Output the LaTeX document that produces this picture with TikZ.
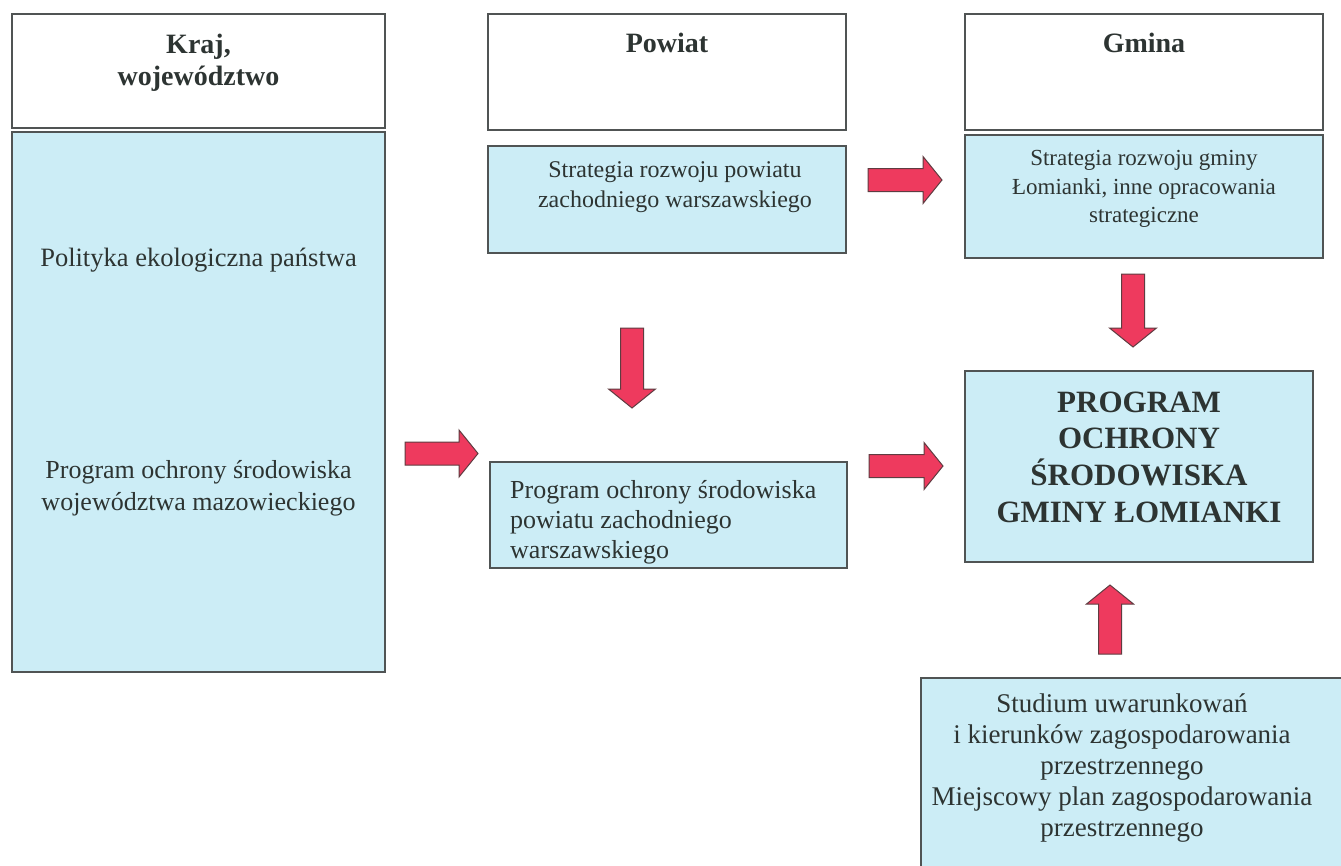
\documentclass[tikz,border=0pt]{standalone}
\usepackage{fontspec}
\setmainfont{Liberation Serif}
\definecolor{boxblue}{RGB}{204,237,246}
\definecolor{arrred}{RGB}{238,58,94}
\definecolor{arredge}{RGB}{95,60,65}
\definecolor{lineg}{RGB}{80,84,84}
\definecolor{txt}{RGB}{45,52,50}
\begin{document}
\begin{tikzpicture}[x=1pt,y=-1pt,
  wbox/.style={draw=lineg,line width=1.4pt,fill=white,inner sep=0pt,outer sep=0pt},
  bbox/.style={draw=lineg,line width=1.4pt,fill=boxblue,inner sep=0pt,outer sep=0pt},
  txtnode/.style={text=txt,inner sep=0pt,align=center},
  barrowstyle/.style={draw=arredge,line width=1pt,fill=arrred,line join=miter},
  pics/barrow/.style={code={
    \draw[barrowstyle] (0,-11.5) -- (#1-19,-11.5) -- (#1-19,-23.5) -- (#1,0)
      -- (#1-19,23.5) -- (#1-19,11.5) -- (0,11.5) -- cycle;}}]
\useasboundingbox (0,0) rectangle (1341,865);
\fill[white] (0,0) rectangle (1341,865);

% boxes
\node[wbox,minimum width=373pt,minimum height=114pt] (krajh) at (198.5,71) {};
\node[bbox,minimum width=373pt,minimum height=540pt] (krajb) at (198.5,402) {};
\node[wbox,minimum width=358pt,minimum height=116pt] (powh) at (667,72) {};
\node[bbox,minimum width=358pt,minimum height=107pt] (pows) at (667,199.5) {};
\node[bbox,minimum width=357pt,minimum height=106pt] (powp) at (668.5,515) {};
\node[wbox,minimum width=358pt,minimum height=116pt] (gmh) at (1144,72) {};
\node[bbox,minimum width=358pt,minimum height=123pt] (gms) at (1144,196.5) {};
\node[bbox,minimum width=348pt,minimum height=191pt] (prog) at (1139,466.5) {};
\node[bbox,minimum width=425pt,minimum height=192pt] (stud) at (1133.5,774) {};

% texts
\node[txtnode,font=\bfseries\fontsize{28}{32}\selectfont] (tkraj) at (198.5,63) {Kraj,\\województwo};
\node[txtnode,font=\bfseries\fontsize{28}{32}\selectfont] (tpow) at (667,43) {Powiat};
\node[txtnode,font=\bfseries\fontsize{28}{32}\selectfont] (tgm) at (1144,43) {Gmina};
\node[txtnode,font=\fontsize{26.5}{32}\selectfont] (tpol) at (198.5,260) {Polityka ekologiczna państwa};
\node[txtnode,font=\fontsize{26}{32}\selectfont] (tpw) at (198.5,488) {Program ochrony środowiska\\województwa mazowieckiego};
\node[txtnode,font=\fontsize{24}{30}\selectfont] (tps) at (675,187) {Strategia rozwoju powiatu\\zachodniego warszawskiego};
\node[txtnode,font=\fontsize{23}{28.5}\selectfont] (tgs) at (1144,189) {Strategia rozwoju gminy\\Łomianki, inne opracowania\\strategiczne};
\node[txtnode,font=\bfseries\fontsize{31}{36.7}\selectfont] (tprog) at (1139,457) {PROGRAM\\OCHRONY\\ŚRODOWISKA\\GMINY ŁOMIANKI};
\node[txtnode,align=left,anchor=west,font=\fontsize{26}{30}\selectfont] (tpp) at (510,522) {Program ochrony środowiska\\powiatu zachodniego\\warszawskiego};
\node[txtnode,font=\fontsize{27}{31}\selectfont] (tst) at (1122,768) {Studium uwarunkowań\\i kierunków zagospodarowania\\przestrzennego\\Miejscowy plan zagospodarowania\\przestrzennego};

% block arrows
\pic at (405,453.5) {barrow=73};
\pic at (868,180) {barrow=74};
\pic at (869,466) {barrow=74};
\pic[rotate=-90] at (632,328) {barrow=80};
\pic[rotate=-90] at (1133,274) {barrow=73};
\pic[rotate=90] at (1110,654) {barrow=69};
\end{tikzpicture}
\end{document}
